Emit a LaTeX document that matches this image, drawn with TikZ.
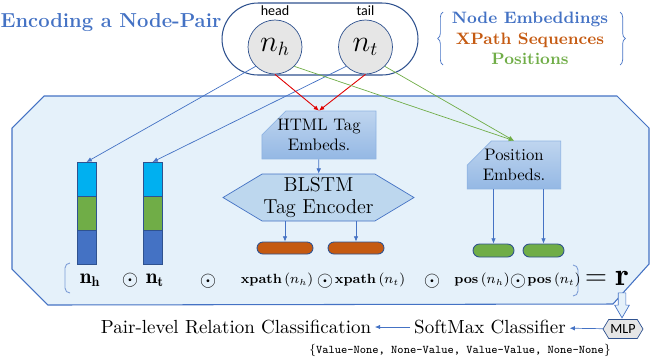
\documentclass[tikz,border=0pt]{standalone}
\usepackage{fontspec}
\newfontfamily\calibri{Carlito}
\usetikzlibrary{shapes,shapes.misc,shapes.symbols,shapes.arrows,arrows.meta,positioning,decorations.pathreplacing}
\definecolor{tblue}{HTML}{4472C4}
\definecolor{dblue}{HTML}{2F528F}
\definecolor{lblue}{HTML}{8FB4E3}
\definecolor{panelfill}{HTML}{E5F1FA}
\definecolor{torange}{HTML}{C55A11}
\definecolor{tgreen}{HTML}{70AD47}
\definecolor{tcyan}{HTML}{00B0F0}
\definecolor{tred}{HTML}{E00000}
\definecolor{tgray}{HTML}{E6E6E6}
\definecolor{boxtop}{HTML}{BFD5EF}
\definecolor{boxbot}{HTML}{94B8E4}
\definecolor{hexfill}{HTML}{BDD7EE}
\begin{document}
\begin{tikzpicture}[x=0.02cm, y=-0.02cm, >={Latex[length=3pt,width=2.6pt]}]
  \tikzstyle{arr} = [->, draw=tblue, line width=0.4pt]
  \tikzstyle{bar} = [draw=dblue, line width=0.4pt, inner sep=0pt, minimum width=0.38cm, minimum height=0.67cm, anchor=north]
  \tikzstyle{embed} = [chamfered rectangle, chamfered rectangle corners=north west, chamfered rectangle xsep=0.34cm, chamfered rectangle ysep=0.17cm, draw=lblue, top color=boxtop, bottom color=boxbot, align=center, font=\fontsize{9.5}{11}\selectfont, inner sep=0pt, minimum height=0.92cm]
  \tikzstyle{pill} = [rounded rectangle, draw=dblue, line width=0.5pt, inner sep=0pt]
  \tikzstyle{term} = [font=\fontsize{7.6}{9}\selectfont, inner sep=0pt]
  \tikzstyle{dot} = [font=\fontsize{12}{13}\selectfont, inner sep=0pt]
  \tikzstyle{word} = [font=\fontsize{10.8}{12}\selectfont, inner sep=2pt]
  \useasboundingbox (0,0) rectangle (658,360);
  \draw[draw=tblue, fill=panelfill, line width=0.6pt] (44,96) -- (617,96) -- (649,128) -- (649,264) -- (613,304) -- (48,305) -- (12,269) -- (12,128) -- cycle;
  \node (title) at (111,23) [font=\bfseries\fontsize{11.5}{13}\selectfont, text=tblue] {Encoding a Node-Pair};
  \node (pair) at (320,39) [rounded rectangle, draw=dblue, line width=0.6pt, minimum width=3.92cm, minimum height=1.44cm, inner sep=0pt] {};
  \node (nh) at (275,47) [circle, draw=dblue, fill=tgray, minimum size=1.08cm, inner sep=0pt, font=\fontsize{16}{18}\selectfont] {$n_h$};
  \node (nt) at (365.5,47) [circle, draw=dblue, fill=tgray, minimum size=1.08cm, inner sep=0pt, font=\fontsize{16}{18}\selectfont] {$n_t$};
  \node (headlbl) at (275,11) [font=\calibri\fontsize{8}{9}\selectfont] {head};
  \node (taillbl) at (365.5,11) [font=\calibri\fontsize{8}{9}\selectfont] {tail};
  \node (leg1) at (530,19) [font=\bfseries\fontsize{9.4}{11}\selectfont, text=tblue] {Node Embeddings};
  \node (leg2) at (530,40) [font=\bfseries\fontsize{9.4}{11}\selectfont, text=torange] {XPath Sequences};
  \node (leg3) at (530,59) [font=\bfseries\fontsize{9.4}{11}\selectfont, text=tgreen] {Positions};
  \draw[tblue, decorate, decoration={brace, amplitude=3pt}] (443,65) -- (443,12);
  \draw[tblue, decorate, decoration={brace, amplitude=3pt}] (620,12) -- (620,65);
  \node (h1) at (86.5,162) [bar, fill=tcyan] {};
  \node (h2) [bar, fill=tgreen, below=0pt of h1] {};
  \node (h3) [bar, fill=tblue, below=0pt of h2] {};
  \node (t1) at (152.5,162) [bar, fill=tcyan] {};
  \node (t2) [bar, fill=tgreen, below=0pt of t1] {};
  \node (t3) [bar, fill=tblue, below=0pt of t2] {};
  \node (html) at (319,135) [embed, minimum width=1.84cm] {HTML Tag\\Embeds.};
  \node (pos) at (514,165) [embed, minimum width=1.64cm] {Position\\Embeds.};
  \node (blstm) at (318.5,197.5) [signal, signal to=west and east, signal pointer angle=62, draw=tblue, fill=hexfill, minimum width=3.82cm, minimum height=0.94cm, inner sep=0pt, align=center, font=\fontsize{11.5}{12.5}\selectfont] {BLSTM\\Tag Encoder};
  \node (o1) at (285,248) [pill, fill=torange, minimum width=1.12cm, minimum height=0.24cm] {};
  \node (o2) at (356,248) [pill, fill=torange, minimum width=1.12cm, minimum height=0.24cm] {};
  \node (g1) at (493.5,250.5) [pill, fill=tgreen, minimum width=0.82cm, minimum height=0.26cm] {};
  \node (g2) at (543.5,250.5) [pill, fill=tgreen, minimum width=0.82cm, minimum height=0.26cm] {};
  \draw[arr] (nh.-135) -- (h1.north);
  \draw[arr] (nt.-135) -- (t1.north);
  \draw[->, tred, line width=0.5pt] (nh.south) -- (html.north);
  \draw[->, tred, line width=0.5pt] (nt.south) -- (html.north);
  \draw[->, tgreen, line width=0.4pt] (nh.-45) -- (pos.north);
  \draw[->, tgreen, line width=0.4pt] (nt.-45) -- (pos.north);
  \draw[arr] (html) -- (blstm);
  \draw[arr] (blstm.south -| o1) -- (o1.north);
  \draw[arr] (blstm.south -| o2) -- (o2.north);
  \draw[arr] (pos.south -| g1) -- (g1.north);
  \draw[arr] (pos.south -| g2) -- (g2.north);
  \draw[tblue!70, line width=0.5pt] (70,263) to[out=180,in=90] (65,268) -- (65,288) to[out=-90,in=180] (70,293);
  \draw[tblue!70, line width=0.5pt] (573,265) to[out=0,in=90] (578,270) -- (578,291) to[out=-90,in=0] (573,296);
  \node (fnh) at (90,280) [font=\fontsize{12}{14}\selectfont, inner sep=0pt] {$\mathbf{n_h}$};
  \node (d1) at (130,280) [dot] {$\odot$};
  \node (fnt) at (155,280) [font=\fontsize{12}{14}\selectfont, inner sep=0pt] {$\mathbf{n_t}$};
  \node (d2) at (208,281) [dot] {$\odot$};
  \node (xh) at (277,280) [term] {$\textbf{xpath}\,(n_h)$};
  \node (d3) at (325,281) [dot] {$\odot$};
  \node (xt) at (370,280) [term] {$\textbf{xpath}\,(n_t)$};
  \node (d4) at (432,281) [dot] {$\odot$};
  \node (ph) at (482,280) [term] {$\textbf{pos}\,(n_h)$};
  \node (d5) at (518,281) [dot] {$\odot$};
  \node (pt) at (554,280) [term] {$\textbf{pos}\,(n_t)$};
  \node (r) at (607,278) [font=\fontsize{18}{20}\selectfont, inner sep=0pt] {$=\mathbf{r}$};
  \node (blk) at (622,302) [single arrow, shape border rotate=270, draw=tblue, fill=panelfill, minimum height=0.5cm, inner sep=0.07cm, single arrow head extend=0.07cm, single arrow tip angle=60] {};
  \node (mlp) at (623,329) [signal, signal to=west and east, signal pointer angle=118, draw=dblue, fill=tgray, minimum width=0.8cm, minimum height=0.38cm, inner sep=0pt, font=\calibri\fontsize{8}{9}\selectfont] {MLP};
  \node (softmax) at (490,327) [word] {SoftMax Classifier};
  \node (rel) at (236,327) [word] {Pair-level Relation Classification};
  \node (classes) at (460,350) [font=\ttfamily\fontsize{6.7}{8}\selectfont] {$\{$Value-None, None-Value, Value-Value, None-None$\}$};
  \draw[arr] (mlp) -- (softmax);
  \draw[arr] (softmax) -- (rel);
\end{tikzpicture}
\end{document}
